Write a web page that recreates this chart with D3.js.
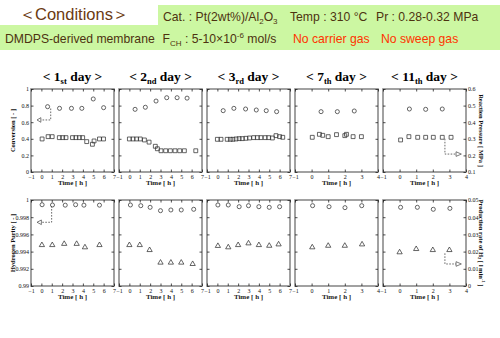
<!DOCTYPE html>
<html><head><meta charset="utf-8">
<script src="https://d3js.org/d3.v7.min.js"></script>
<style>body{margin:0;background:#fff;} svg{display:block;}</style>
</head><body>
<script>
// ---------- data ----------
const dayNumbers = ["1", "2", "3", "7", "11"];
const daySuffixes = ["st", "nd", "rd", "th", "th"];
const timeMax = [7, 7, 7, 4, 4];
const xTicksLong = [-1, 0, 1, 2, 3, 4, 5, 6, 7];
const xTicksShort = [-1, 0, 1, 2, 3, 4];
const convTicks = [0, 0.2, 0.4, 0.6, 0.8, 1];
const convTickLabels = ["0", "0.2", "0.4", "0.6", "0.8", "1"];
const pressTicks = [0.1, 0.2, 0.3, 0.4, 0.5, 0.6];
const pressTickLabels = ["0.1", "0.2", "0.3", "0.4", "0.5", "0.6"];
const purityTicks = [0.99, 0.992, 0.994, 0.996, 0.998, 1];
const purityTickLabels = ["0.99", "0.992", "0.994", "0.996", "0.998", "1"];
const rateTicks = [0, 0.01, 0.02, 0.03, 0.04, 0.05];
const rateTickLabels = ["0", "0.01", "0.02", "0.03", "0.04", "0.05"];

// Conversion [-] (circles, top row, left axis)
const conversionByDay = [
  [[0.6,0.787],[1.75,0.767],[2.9,0.767],[3.9,0.767],[5.0,0.88],[6.0,0.775]],
  [[0.55,0.755],[1.54,0.78],[2.57,0.855],[3.6,0.895],[4.6,0.895],[5.56,0.89]],
  [[0.56,0.739],[1.59,0.767],[2.72,0.759],[3.75,0.747],[4.71,0.739],[5.71,0.727]],
  [[0.57,0.727],[1.55,0.727],[2.57,0.735]],
  [[0.59,0.759],[1.57,0.755],[2.57,0.759]]
];
// Reaction pressure [MPa] (squares, top row, right axis)
const pressureByDay = [
  [[0.07,0.299],[0.65,0.313],[1.04,0.313],[1.73,0.307],[2.05,0.307],[2.37,0.307],[3.0,0.307],[3.33,0.307],[3.66,0.307],[3.98,0.307],[4.37,0.283],[4.92,0.267],[5.08,0.287],[5.6,0.299],[5.99,0.299]],
  [[0,0.299],[0.35,0.299],[0.7,0.299],[1.05,0.299],[1.45,0.293],[1.9,0.28],[2.5,0.255],[2.7,0.24],[3.05,0.228],[3.5,0.228],[3.95,0.228],[4.4,0.228],[4.85,0.228],[5.3,0.228],[6.4,0.228]],
  [[0,0.297],[0.35,0.297],[0.95,0.297],[1.25,0.297],[1.5,0.297],[1.8,0.299],[2.1,0.301],[2.4,0.301],[2.75,0.303],[3.1,0.305],[3.5,0.307],[3.85,0.307],[4.2,0.307],[4.6,0.307],[4.95,0.307],[5.3,0.305],[5.65,0.319],[6.0,0.313],[6.3,0.309]],
  [[0.04,0.309],[0.47,0.327],[0.67,0.321],[1.0,0.313],[1.5,0.325],[2.0,0.319],[2.1,0.327],[2.5,0.313],[3.0,0.313]],
  [[0.06,0.293],[0.56,0.313],[1.09,0.309],[1.57,0.309],[2.03,0.309],[2.57,0.309],[3.1,0.309]]
];
// Hydrogen purity [-] (circles, bottom row, left axis)
const purityByDay = [
  [[0.07,0.99945],[1.07,0.99942],[2.3,0.9994],[3.3,0.99945],[4.1,0.9994],[5.6,0.9994]],
  [[0.1,0.99942],[1.1,0.99934],[2.0,0.99915],[3.0,0.99876],[4.0,0.99884],[5.0,0.99884],[6.2,0.99892]],
  [[0.05,0.99942],[1.05,0.99942],[2.1,0.99922],[3.0,0.99934],[4.0,0.99922],[5.0,0.99915],[6.0,0.99922]],
  [[0.06,0.99934],[1.05,0.99922],[2.01,0.99911],[3.02,0.99934]],
  [[0.06,0.99915],[1.07,0.99915],[2.03,0.99892],[3.03,0.99903]]
];
// Production rate of H2 [l/min] (triangles, bottom row, right axis)
const rateByDay = [
  [[0.05,0.0238],[1.05,0.0238],[2.2,0.0245],[3.4,0.0245],[4.2,0.0225],[5.6,0.0238]],
  [[0,0.0238],[1.0,0.0238],[1.95,0.0209],[3.0,0.0136],[4.0,0.0136],[5.0,0.0136],[6.1,0.0128]],
  [[0.05,0.0233],[1.05,0.0225],[2.0,0.0238],[3.0,0.0248],[4.0,0.0238],[5.0,0.0234],[5.9,0.0242]],
  [[0.04,0.0225],[1.0,0.0234],[2.0,0.0234],[3.04,0.0242]],
  [[0.0,0.0196],[1.0,0.0215],[2.0,0.0209],[3.0,0.0209]]
];
// axis-indicator arrows: [panel, row, scaleKey, path points, arrow tip time]
const arrowConvPath = [[0.9,0.765],[0.9,0.627],[-0.05,0.627]];
const arrowConvTip = -0.42;
const arrowPressPath = [[2.73,0.3],[2.73,0.208],[3.4,0.208]];
const arrowPressTip = 3.72;
const arrowPurityPath = [[0.99,0.9993],[0.99,0.99741],[0.0,0.99741]];
const arrowPurityTip = -0.42;
const arrowRatePath = [[2.73,0.019],[2.73,0.0128],[3.4,0.0128]];
const arrowRateTip = 3.72;

// ---------- layout ----------
const W = 500, H = 338;
const svg = d3.select("body").append("svg").attr("width", W).attr("height", H)
  .style("font-family", "'Liberation Sans', Arial, sans-serif");

const green = "#ccf7a2", brown = "#4d3210", red = "#ff3300";
// header boxes
svg.append("rect").attr("x",158).attr("y",5).attr("width",342).attr("height",20).attr("fill",green);
svg.append("rect").attr("x",0).attr("y",25).attr("width",500).attr("height",25).attr("fill",green);

const cond = svg.append("text").attr("y",19.5).attr("fill","#6b3a12").attr("font-size",16.5);
cond.append("tspan").attr("x",19).text("＜");
cond.append("tspan").attr("x",35).text("Conditions");
cond.append("tspan").attr("x",112).text("＞");

const l1 = svg.append("text").attr("y",21).attr("fill",brown).attr("font-size",12.2);
l1.append("tspan").attr("x",163).text("Cat. : Pt(2wt%)/Al");
l1.append("tspan").attr("font-size",8).attr("dy",3).text("2");
l1.append("tspan").attr("dy",-3).text("O");
l1.append("tspan").attr("font-size",8).attr("dy",3).text("3");
l1.append("tspan").attr("x",290).attr("dy",-3).text("Temp : 310 °C");
l1.append("tspan").attr("x",376).text("Pr : 0.28-0.32 MPa");

const l2 = svg.append("text").attr("y",43).attr("fill",brown).attr("font-size",12.2);
l2.append("tspan").attr("x",5).text("DMDPS-derived membrane");
l2.append("tspan").attr("x",162.5).text("F");
l2.append("tspan").attr("font-size",8).attr("dy",3).text("CH");
l2.append("tspan").attr("dy",-3).text(" : 5-10\u00d710");
l2.append("tspan").attr("font-size",8).attr("dy",-5).text("-6");
l2.append("tspan").attr("dy",5).text(" mol/s");
l2.append("tspan").attr("x",293).attr("fill",red).text("No carrier gas");
l2.append("tspan").attr("x",381).attr("fill",red).text("No sweep gas");

const panelLeft0 = 31, panelStep = 88, panelW = 83;
const rows = [{top:89, bottom:172}, {top:200, bottom:286}];
const serif = "'Liberation Serif', 'Times New Roman', serif";
const frameColor = "#8a8a8a", markColor = "#333";

function markers(g, data, x, y, type, size){
  g.selectAll(null).data(data).join("path")
    .attr("d", d3.symbol().type(type).size(size))
    .attr("transform", d => `translate(${x(d[0])},${y(d[1])})`)
    .attr("fill","none").attr("stroke",markColor).attr("stroke-width",0.75);
}
function arrow(g, pts, tip, x, y){
  const line = d3.line().x(d=>x(d[0])).y(d=>y(d[1]));
  g.append("path").attr("d", line(pts)).attr("fill","none")
    .attr("stroke","#444").attr("stroke-width",0.8).attr("stroke-dasharray","1.6,1.4");
  const end = pts[pts.length-1];
  const bx = x(end[0]), by = y(end[1]), tx = x(tip);
  g.append("path").attr("d", `M${bx},${by-2.3}L${tx},${by}L${bx},${by+2.3}Z`)
    .attr("fill","#fff").attr("stroke","#444").attr("stroke-width",0.7);
}

for (let i = 0; i < 5; i++){
  const left = panelLeft0 + i*panelStep;
  const x = d3.scaleLinear().domain([-1, timeMax[i]]).range([left, left+panelW]);
  const xt = timeMax[i] === 7 ? xTicksLong : xTicksShort;

  // title
  const t = svg.append("text").attr("x", left + panelW/2).attr("y", 81)
    .attr("text-anchor","middle").attr("font-family",serif).attr("font-weight","bold")
    .attr("font-size",13.5).attr("fill","#000");
  t.append("tspan").text("< " + dayNumbers[i]);
  t.append("tspan").attr("font-size",8.5).attr("dy",3).text(daySuffixes[i]);
  t.append("tspan").attr("dy",-3).text(" day >");

  rows.forEach((r, ri) => {
    const yL = ri === 0 ? d3.scaleLinear().domain([0,1]).range([r.bottom, r.top])
                        : d3.scaleLinear().domain([0.99,1]).range([r.bottom, r.top]);
    const yR = ri === 0 ? d3.scaleLinear().domain([0.1,0.6]).range([r.bottom, r.top])
                        : d3.scaleLinear().domain([0,0.05]).range([r.bottom, r.top]);
    const lt = ri === 0 ? convTicks : purityTicks;
    const ltl = ri === 0 ? convTickLabels : purityTickLabels;
    const rt = ri === 0 ? pressTicks : rateTicks;
    const rtl = ri === 0 ? pressTickLabels : rateTickLabels;
    const g = svg.append("g");

    g.append("rect").attr("x",left).attr("y",r.top).attr("width",panelW).attr("height",r.bottom-r.top)
      .attr("fill","#fff").attr("stroke",frameColor).attr("stroke-width",1.6);

    const axB = g.append("g").attr("transform",`translate(0,${r.bottom})`)
      .call(d3.axisBottom(x).tickValues(xt).tickSize(-2.5).tickPadding(2.5).tickFormat(d3.format("d")));
    const axT = g.append("g").attr("transform",`translate(0,${r.top})`)
      .call(d3.axisTop(x).tickValues(xt).tickSize(-2.5).tickFormat(""));
    const axL = g.append("g").attr("transform",`translate(${left},0)`)
      .call(d3.axisLeft(yL).tickValues(lt).tickSize(-2.5).tickPadding(2)
        .tickFormat((d,k) => i === 0 ? ltl[k] : ""));
    const axR = g.append("g").attr("transform",`translate(${left+panelW},0)`)
      .call(d3.axisRight(yR).tickValues(rt).tickSize(-2.5).tickPadding(2)
        .tickFormat((d,k) => i === 4 ? rtl[k] : ""));
    [axB, axT, axL, axR].forEach(a => {
      a.select(".domain").remove();
      a.selectAll("line").attr("stroke","#222").attr("stroke-width",0.8);
      a.selectAll("text").attr("font-family",serif).attr("font-size",6).attr("fill","#111");
    });

    g.append("text").attr("x", left + panelW/2).attr("y", r.bottom + 12.5)
      .attr("text-anchor","middle").attr("font-family",serif).attr("font-size",7)
      .attr("font-weight","bold").attr("fill","#222").text("Time [ h ]");

    if (ri === 0){
      markers(g, conversionByDay[i], x, yL, d3.symbolCircle, 13);
      markers(g, pressureByDay[i], x, yR, d3.symbolSquare, 15);
      if (i === 0) arrow(g, arrowConvPath, arrowConvTip, x, yL);
      if (i === 4) arrow(g, arrowPressPath, arrowPressTip, x, yR);
    } else {
      markers(g, purityByDay[i], x, yL, d3.symbolCircle, 13);
      markers(g, rateByDay[i], x, yR, d3.symbolTriangle, 12);
      if (i === 0) arrow(g, arrowPurityPath, arrowPurityTip, x, yL);
      if (i === 4) arrow(g, arrowRatePath, arrowRateTip, x, yR);
    }

    if (i === 0){
      svg.append("text").attr("transform",`translate(15,${(r.top+r.bottom)/2}) rotate(-90)`)
        .attr("text-anchor","middle").attr("font-family",serif).attr("font-weight","bold")
        .attr("font-size",6.5).attr("fill","#111")
        .text(ri === 0 ? "Conversion [ - ]" : "Hydrogen Purity [ - ]");
    }
    if (i === 4){
      const rl = svg.append("text").attr("transform",`translate(479,${(r.top+r.bottom)/2}) rotate(90)`)
        .attr("text-anchor","middle").attr("font-family",serif).attr("font-weight","bold")
        .attr("font-size",6.5).attr("fill","#111");
      if (ri === 0) rl.text("Reaction Pressure [ MPa ]");
      else {
        rl.append("tspan").text("Production rate of H");
        rl.append("tspan").attr("font-size",4.5).attr("dy",1.5).text("2");
        rl.append("tspan").attr("dy",-1.5).text(" [ l min");
        rl.append("tspan").attr("font-size",4.5).attr("dy",-2.5).text("-1");
        rl.append("tspan").attr("dy",2.5).text(" ]");
      }
    }
  });
}
</script>
</body></html>
